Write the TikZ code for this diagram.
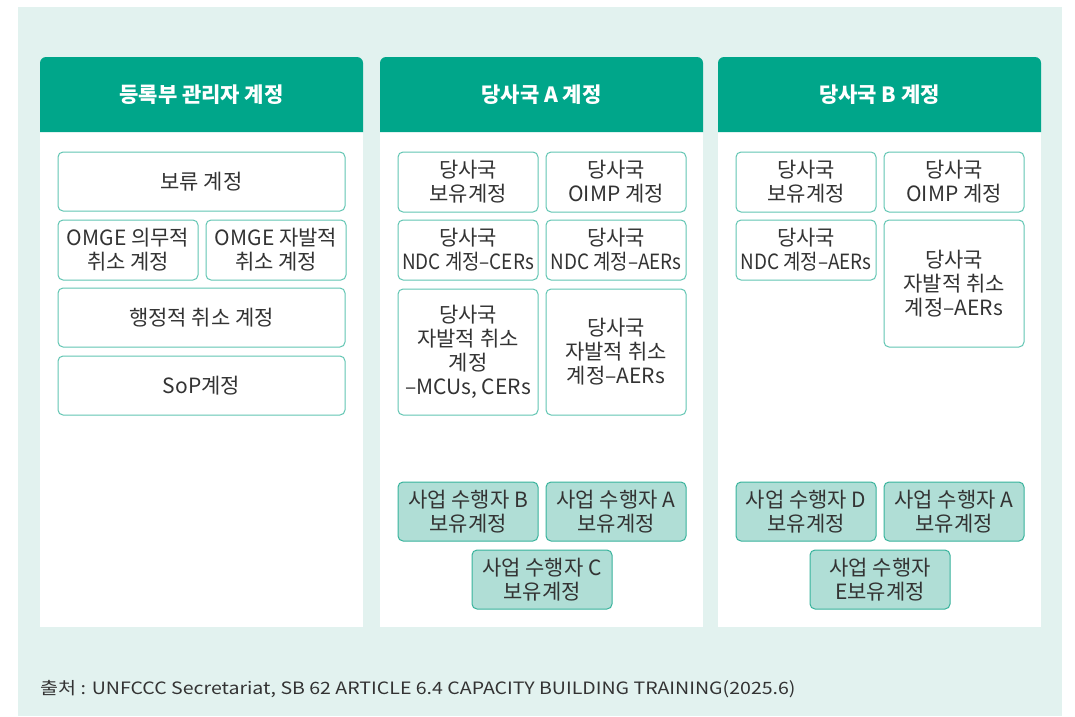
\documentclass[tikz,border=0pt]{standalone}
\usepackage{fontspec}
\setmainfont{Noto Sans CJK KR}
\usepackage{tikz}
\usetikzlibrary{backgrounds,calc}

\definecolor{bgc}{HTML}{E2F2EF}
\definecolor{headc}{HTML}{00A68A}
\definecolor{linec}{HTML}{62C6B3}
\definecolor{fillc}{HTML}{B0DED6}
\definecolor{fline}{HTML}{38B39C}
\definecolor{txtc}{HTML}{333333}

\newcommand{\narrow}[1]{\scalebox{0.9}[1]{#1}}

\begin{document}
\begin{tikzpicture}[x=1pt,y=-1pt,
every node/.style={align=center,inner sep=0,text=txtc,
  font=\fontsize{21pt}{24pt}\selectfont},
acct/.style={draw=linec,line width=1pt,rounded corners=5pt,fill=white,
  minimum width=140pt,minimum height=60pt},
wide/.style={acct,minimum width=287pt,minimum height=59pt},
holder/.style={acct,draw=fline,fill=fillc,minimum height=59pt},
headtxt/.style={text=white,font=\fontsize{21pt}{24pt}\selectfont\bfseries}]

\useasboundingbox (0,0) rectangle (1075,716);
\fill[bgc] (18,7) rectangle (1062,716);

% panels
\fill[white] (40,132) rectangle (363,627);
\fill[white] (380,132) rectangle (703,627);
\fill[white] (718,132) rectangle (1041,627);
\fill[headc] (40,132) [rounded corners=6pt] -- (40,57) -- (363,57) [sharp corners] -- (363,132) -- cycle;
\fill[headc] (380,132) [rounded corners=6pt] -- (380,57) -- (703,57) [sharp corners] -- (703,132) -- cycle;
\fill[headc] (718,132) [rounded corners=6pt] -- (718,57) -- (1041,57) [sharp corners] -- (1041,132) -- cycle;

\node[headtxt] (hreg) at (201.5,95) {등록부 관리자 계정};
\node[headtxt] (hpa) at (541.5,95) {당사국 A 계정};
\node[headtxt] (hpb) at (879.5,95) {당사국 B 계정};

% registry administrator
\node[wide] (hold) at (201.5,181.5) {보류 계정};
\node[acct] (omgem) at (128,250) {OMGE 의무적\\취소 계정};
\node[acct] (omgev) at (276,250) {OMGE 자발적\\취소 계정};
\node[wide] (admin) at (201.5,317.5) {행정적 취소 계정};
\node[wide] (sop) at (201.5,385.5) {SoP계정};

% party A
\node[acct] (ahold) at (468,182) {당사국\\보유계정};
\node[acct] (aoimp) at (616,182) {당사국\\OIMP 계정};
\node[acct] (andcc) at (468,250) {당사국\\\narrow{NDC 계정–CERs}};
\node[acct] (andca) at (616,250) {당사국\\\narrow{NDC 계정–AERs}};
\node[acct,minimum height=126pt] (avolm) at (468,352) {당사국\\자발적 취소\\계정\\–MCUs, CERs};
\node[acct,minimum height=126pt] (avola) at (616,352) {당사국\\자발적 취소\\계정–AERs};
\node[holder] (appb) at (468,511.5) {사업 수행자 B\\보유계정};
\node[holder] (appa) at (616,511.5) {사업 수행자 A\\보유계정};
\node[holder] (appc) at (542,579.5) {사업 수행자 C\\보유계정};

% party B
\node[acct] (bhold) at (806,182) {당사국\\보유계정};
\node[acct] (boimp) at (954,182) {당사국\\OIMP 계정};
\node[acct] (bndca) at (806,250) {당사국\\\narrow{NDC 계정–AERs}};
\node[acct,minimum height=127pt] (bvola) at (954,283.5) {당사국\\자발적 취소\\계정–AERs};
\node[holder] (bppd) at (806,511.5) {사업 수행자 D\\보유계정};
\node[holder] (bppa) at (954,511.5) {사업 수행자 A\\보유계정};
\node[holder] (bppe) at (880,579.5) {사업 수행자\\E보유계정};

\node[anchor=base west,font=\fontsize{17pt}{20pt}\selectfont] (src) at (40,694)
  {\scalebox{1.15}[1]{출처 : UNFCCC Secretariat, SB 62 ARTICLE 6.4 CAPACITY BUILDING TRAINING(2025.6)}};

\end{tikzpicture}
\end{document}
